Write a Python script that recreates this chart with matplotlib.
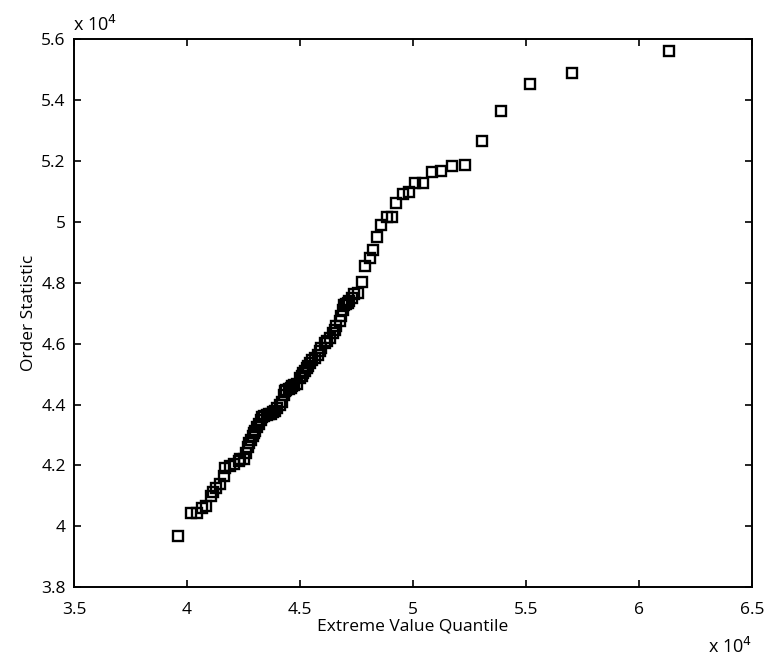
import numpy as np
import matplotlib.pyplot as plt
from matplotlib.ticker import FuncFormatter

plt.rcParams['font.family'] = ['Open Sans', 'DejaVu Sans']

# extreme value quantiles vs sorted sample (both in units of 1e4)
quantile = np.array([
    3.958, 4.016, 4.046, 4.064, 4.083, 4.104, 4.115, 4.130, 4.147, 4.162,
    4.170, 4.188, 4.210, 4.228, 4.236, 4.254, 4.260, 4.268, 4.275, 4.282,
    4.290, 4.296, 4.302, 4.310, 4.318, 4.326, 4.333, 4.342, 4.352, 4.362,
    4.372, 4.380, 4.390, 4.400, 4.410, 4.420, 4.428, 4.432, 4.440, 4.450,
    4.458, 4.466, 4.475, 4.485, 4.500, 4.508, 4.515, 4.522, 4.529, 4.536,
    4.544, 4.555, 4.566, 4.581, 4.588, 4.595, 4.610, 4.620, 4.632, 4.647,
    4.654, 4.661, 4.676, 4.683, 4.690, 4.697, 4.705, 4.712, 4.719, 4.728,
    4.739, 4.757, 4.773, 4.788, 4.808, 4.823, 4.842, 4.859, 4.884, 4.906,
    4.927, 4.954, 4.983, 5.011, 5.044, 5.083, 5.125, 5.173, 5.232, 5.304,
    5.392, 5.516, 5.704, 6.135,
]) * 1e4

order_stat = np.array([
    3.968, 4.045, 4.045, 4.060, 4.065, 4.100, 4.111, 4.127, 4.138, 4.166,
    4.191, 4.199, 4.206, 4.215, 4.220, 4.222, 4.240, 4.260, 4.275, 4.285,
    4.295, 4.305, 4.314, 4.325, 4.335, 4.348, 4.358, 4.362, 4.365, 4.368,
    4.370, 4.374, 4.380, 4.388, 4.398, 4.408, 4.430, 4.446, 4.448, 4.450,
    4.455, 4.460, 4.465, 4.469, 4.486, 4.495, 4.503, 4.510, 4.519, 4.528,
    4.536, 4.545, 4.552, 4.563, 4.575, 4.585, 4.602, 4.610, 4.618, 4.635,
    4.645, 4.657, 4.673, 4.690, 4.712, 4.728, 4.732, 4.735, 4.739, 4.750,
    4.762, 4.767, 4.803, 4.855, 4.882, 4.907, 4.951, 4.990, 5.016, 5.016,
    5.062, 5.091, 5.099, 5.129, 5.129, 5.164, 5.166, 5.183, 5.188, 5.265,
    5.365, 5.454, 5.488, 5.563,
]) * 1e4

fig = plt.figure(figsize=(7.64, 6.56), dpi=100)
ax = fig.add_axes([0.097, 0.105, 0.887, 0.835])

ax.plot(quantile, order_stat, 's', markersize=6.5, markerfacecolor='none',
        markeredgecolor='black', markeredgewidth=1.7, linestyle='none')

ax.set_xlim(3.5e4, 6.5e4)
ax.set_ylim(3.8e4, 5.6e4)
ax.set_xticks(np.arange(3.5e4, 6.51e4, 0.5e4))
ax.set_yticks(np.arange(3.8e4, 5.61e4, 0.2e4))

fmt = FuncFormatter(lambda v, pos: f"{v / 1e4:g}")
ax.xaxis.set_major_formatter(fmt)
ax.yaxis.set_major_formatter(fmt)

ax.tick_params(direction='in', length=5, width=1.2, top=True, right=True,
               labelsize=12.5)
ax.tick_params(axis='x', pad=11)
ax.tick_params(axis='y', pad=6)
for s in ax.spines.values():
    s.set_linewidth(1.4)

ax.set_xlabel('Extreme Value Quantile', fontsize=12.5, labelpad=0)
ax.set_ylabel('Order Statistic', fontsize=12.5, labelpad=3)

# exponent markers in the MATLAB style
ax.text(-0.002, 1.008, r'x 10$^{4}$', transform=ax.transAxes, fontsize=13,
        ha='left', va='bottom')
ax.text(1.0, -0.09, r'x 10$^{4}$', transform=ax.transAxes, fontsize=13,
        ha='right', va='top')

fig.savefig('out.png', dpi=100)
